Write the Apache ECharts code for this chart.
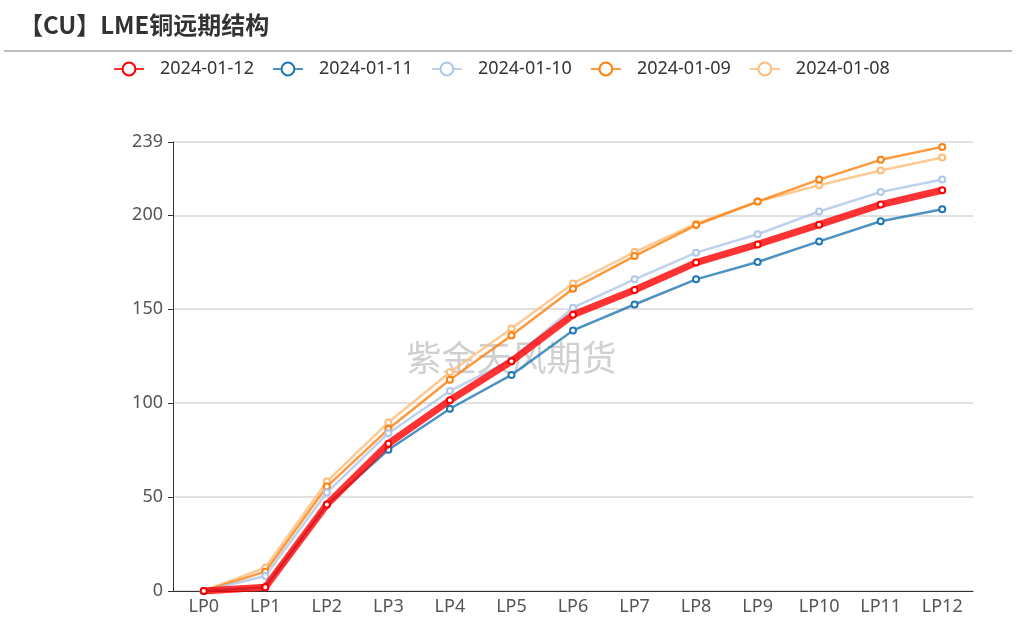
<!DOCTYPE html>
<html>
<head>
<meta charset="utf-8">
<script src="https://cdn.jsdelivr.net/npm/echarts@6/dist/echarts.min.js"></script>
<style>
  html, body { margin: 0; padding: 0; background: #fff; }
  #chart { width: 1023px; height: 627px; }
</style>
</head>
<body>
<div id="chart"></div>
<script>
const categories = ['LP0', 'LP1', 'LP2', 'LP3', 'LP4', 'LP5', 'LP6', 'LP7', 'LP8', 'LP9', 'LP10', 'LP11', 'LP12']

const d0112 = [0, 2, 46, 78.4, 101.5, 122.3, 147, 160.2, 174.8, 184.5, 195, 205.7, 213.3]
const d0111 = [0, 2, 45.9, 75.2, 97, 115, 138.7, 152.5, 165.9, 175.1, 186.1, 196.8, 203.2]
const d0110 = [0, 8, 52.4, 84, 106.5, 123, 150.8, 165.9, 180.1, 189.9, 202, 212.4, 219]
const d0109 = [0, 10.3, 55.6, 86.2, 112.5, 136, 160.9, 178.3, 194.8, 207.3, 219, 229.5, 236.4]
const d0108 = [0, 12.4, 58.3, 89.8, 116.4, 139.7, 163.7, 180.4, 195.5, 207.3, 216, 223.8, 230.8]

const seriesNames = ['2024-01-12', '2024-01-11', '2024-01-10', '2024-01-09', '2024-01-08']
const seriesColors = ['#ff0000', '#1f77b4', '#aec7e8', '#ff7f0e', '#ffbb78']
const seriesData = [d0112, d0111, d0110, d0109, d0108]

const chart = echarts.init(document.getElementById('chart'))

const series = seriesNames.map((name, i) => ({
  name: name,
  type: 'line',
  data: seriesData[i],
  symbol: 'emptyCircle',
  symbolSize: 6,
  z: 10 - i,
  itemStyle: { color: seriesColors[i], borderWidth: 1.5 },
  lineStyle: { width: i === 0 ? 7 : 2.5, opacity: 0.8 }
}))

chart.setOption({
  animation: false,
  title: {
    text: '【CU】LME铜远期结构',
    left: 14,
    top: 8,
    textStyle: { fontSize: 24, fontWeight: 'bold', color: '#333', fontFamily: 'Noto Sans CJK SC' }
  },
  graphic: [
    {
      type: 'line',
      shape: { x1: 4, y1: 51, x2: 1012, y2: 51 },
      style: { stroke: '#aaa', lineWidth: 1.5 }
    },
    {
      type: 'text',
      left: 'center',
      top: 340,
      z: -10,
      style: {
        text: '紫金天风期货',
        fontSize: 35,
        fill: '#d0d0d0',
        fontFamily: 'Noto Sans CJK SC'
      }
    }
  ],
  legend: {
    top: 55,
    left: 108,
    itemWidth: 30,
    itemHeight: 16,
    itemGap: 18,
    textStyle: { fontSize: 18, color: '#333', fontFamily: 'Noto Sans', padding: [0, 0, 0, 11] },
    data: seriesNames
  },
  grid: { left: 173, right: 50, top: 142, bottom: 36 },
  xAxis: {
    type: 'category',
    data: categories,
    axisLine: { lineStyle: { color: '#333' } },
    axisTick: { alignWithLabel: true, lineStyle: { color: '#333' } },
    axisLabel: { fontSize: 18, color: '#555', fontFamily: 'Noto Sans', margin: 7 }
  },
  yAxis: {
    type: 'value',
    min: 0,
    max: 239,
    interval: 50,
    axisLine: { show: true, lineStyle: { color: '#333' } },
    axisTick: { show: true, lineStyle: { color: '#333' } },
    splitLine: { lineStyle: { color: '#d6d6d6', width: 1.5 } },
    axisLabel: { fontSize: 18, color: '#555', fontFamily: 'Noto Sans', margin: 10 }
  },
  series: series
})
</script>
</body>
</html>
